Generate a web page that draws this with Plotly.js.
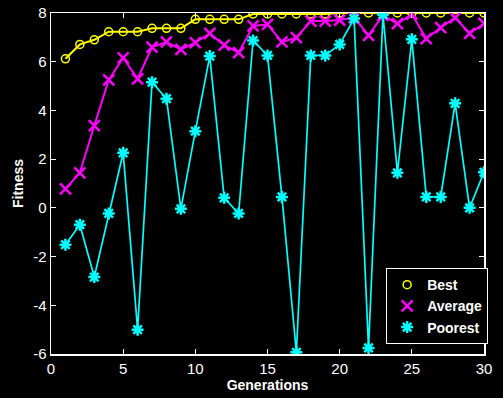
<!DOCTYPE html>
<html>
<head>
<meta charset="utf-8">
<script src="https://cdn.plot.ly/plotly-3.0.1.min.js"></script>
<style>html,body{margin:0;padding:0;background:#000;}#chart{width:503px;height:398px;}</style>
</head>
<body>
<div id="chart"></div>
<script>
const generations = [1,2,3,4,5,6,7,8,9,10,11,12,13,14,15,16,17,18,19,20,21,22,23,24,25,26,27,28,29,30];
const best = [6.12,6.71,6.90,7.23,7.23,7.23,7.37,7.37,7.37,7.74,7.74,7.74,7.74,7.96,7.96,7.96,7.96,7.96,7.96,8.0,8.0,8.0,8.0,8.0,8.0,8.0,8.0,8.0,8.0,8.0];
const average = [0.78,1.44,3.38,5.25,6.16,5.30,6.60,6.81,6.51,6.78,7.16,6.68,6.37,7.47,7.53,6.81,6.99,7.67,7.67,7.71,7.81,7.08,7.90,7.56,7.95,6.95,7.40,7.81,7.16,7.57];
const poorest = [-1.51,-0.69,-2.84,-0.23,2.26,-5.0,5.16,4.48,-0.04,3.15,6.23,0.41,-0.23,6.87,6.26,0.45,-5.93,6.26,6.26,6.71,7.77,-5.75,7.94,1.44,6.92,0.45,0.45,4.29,0.0,1.46];
const seriesNames = ["Best","Average","Poorest"];
const xTicks = [0,5,10,15,20,25,30];
const yTicks = [-6,-4,-2,0,2,4,6,8];

const styles = [
  {color: "#ffff00", lw: 2, marker: {symbol: "circle-open", size: 8, color: "#ffff00", line: {width: 1.5, color: "#ffff00"}}},
  {color: "#ff00ff", lw: 2, marker: {symbol: "x-thin-open", size: 11, color: "#ff00ff", line: {width: 2.5, color: "#ff00ff"}}},
  {color: "#00ffff", lw: 1.7, marker: {symbol: "asterisk-open", size: 10, color: "#00ffff", line: {width: 2.5, color: "#00ffff"}}}
];
const seriesData = [best, average, poorest];

const traces = [];
seriesData.forEach((ys, i) => {
  traces.push({x: generations, y: ys, name: seriesNames[i], mode: "lines+markers",
    line: {color: styles[i].color, width: styles[i].lw}, marker: styles[i].marker,
    showlegend: false});
});
// legend entries: markers only, like the original legend
seriesNames.forEach((n, i) => {
  traces.push({x: [null], y: [null], name: n, mode: "markers", marker: styles[i].marker, showlegend: true});
});

const axisCommon = {
  showgrid: false, zeroline: false, showline: true, mirror: "ticks",
  linecolor: "#ffffff", linewidth: 1.5, ticks: "inside", ticklen: 5, tickcolor: "#ffffff",
  tickfont: {family: "Liberation Sans, Arial, sans-serif", size: 15, color: "#ffffff"}
};

const layout = {
  width: 503, height: 398,
  paper_bgcolor: "#000000", plot_bgcolor: "#000000",
  margin: {l: 51, r: 19, t: 13, b: 44},
  showlegend: true,
  font: {family: "Liberation Sans, Arial, sans-serif", color: "#ffffff"},
  xaxis: Object.assign({}, axisCommon, {
    range: [0, 30], tickvals: xTicks, ticktext: xTicks.map(String),
    title: {text: "<b>Generations</b>", font: {size: 14, color: "#ffffff"}, standoff: 4}
  }),
  yaxis: Object.assign({}, axisCommon, {
    range: [-6, 8], tickvals: yTicks, ticktext: yTicks.map(String),
    title: {text: "<b>Fitness</b>", font: {size: 14, color: "#ffffff"}, standoff: 6}
  }),
  legend: {
    x: 0.774, y: 0.252, xanchor: "left", yanchor: "top",
    bgcolor: "#000000", bordercolor: "#ffffff", borderwidth: 1,
    font: {size: 14, color: "#ffffff", family: "Liberation Sans, Arial, sans-serif", weight: "bold"},
    tracegroupgap: 0, itemwidth: 30
  }
};

Plotly.newPlot("chart", traces, layout, {displayModeBar: false, staticPlot: true});
</script>
</body>
</html>
